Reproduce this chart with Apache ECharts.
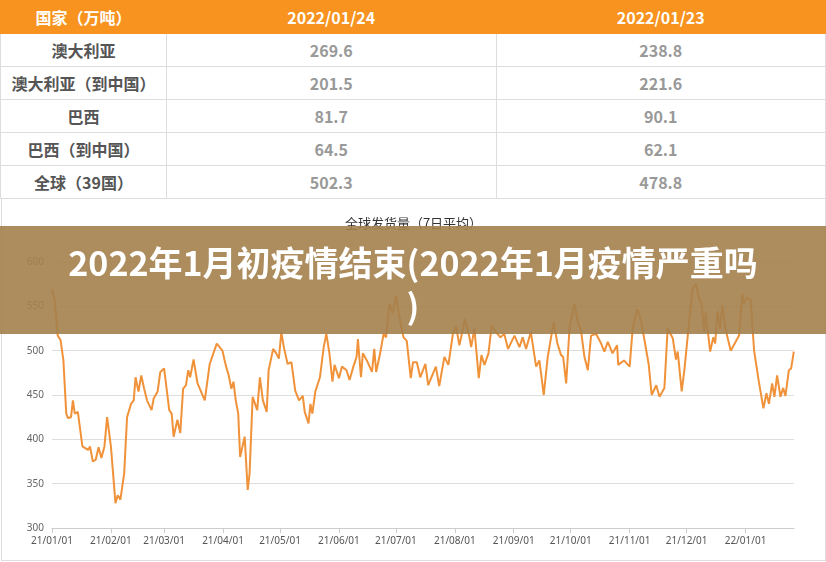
<!DOCTYPE html>
<html><head><meta charset="utf-8">
<script src="https://cdn.jsdelivr.net/npm/echarts@6/dist/echarts.min.js"></script>
<style>
body{margin:0;width:826px;height:562px;overflow:hidden;background:#fff;font-family:"Noto Sans CJK SC","Noto Sans",sans-serif;position:relative}
table{border-collapse:collapse;width:826px;table-layout:fixed;position:absolute;top:0;left:0}
td,th{height:32px;border:1px solid #ddd;text-align:center;font-size:16px;font-weight:bold;padding:0}
th{background:#f7931e;color:#fff;border-color:#f7931e}
td{color:#999}
td.c{color:#555}
#chart{position:absolute;left:1px;top:198px;width:823px;height:362px;border:1px solid #ddd;border-top:none}
#banner{position:absolute;left:0;top:226px;width:826px;height:108px;background:rgba(164,127,77,0.9);color:#fff;font-weight:bold;font-size:34px;line-height:43px;text-align:center;box-sizing:border-box;padding:14px 20px 0 20px;font-family:"Noto Sans CJK SC",sans-serif}
</style></head><body>
<table id="tbl"></table>
<div id="chart"></div>
<div id="banner">2022年1月初疫情结束(2022年1月疫情严重吗<br>)</div>
<script>
const headers=['国家（万吨）','2022/01/24','2022/01/23'];
const countries=['澳大利亚','澳大利亚（到中国）','巴西','巴西（到中国）','全球（39国）'];
const col0124=['269.6','201.5','81.7','64.5','502.3'];
const col0123=['238.8','221.6','90.1','62.1','478.8'];
const days=[0,1.4,3,4.5,6,7.5,8.4,10,11,12,13.6,16,19,20,21.5,23,24.5,26,27.6,29,31,33.4,34.6,36,38,39.5,41.6,43,44,45.5,47,48.5,50,52.4,53.5,55.6,57,59,61.7,63,64,66,67.5,69,70.5,71.7,72.7,74.5,76.6,80.4,83,86.7,89.7,91.4,93,94.4,95.5,96.7,98,99,101.4,103,104,105.6,108,109.4,111,113,114,116.4,118,119.4,120.7,122,124,126,128,130,132,133,135,136,137,138.6,141,143,144.4,146,147.6,148.7,151,152.6,155,156.6,158.6,160.3,161,162.6,163.6,165.7,168.4,169.6,170.6,172.7,174.5,175.8,177.6,179.4,181,183,185,186.7,188.8,190,192,193.8,196.5,198,202,203.8,206.5,208.6,211,212.6,214.4,217.4,219.7,220.6,222.3,224.6,226,227.6,229.7,231.4,233.7,236,238,240,243.4,246,247.7,249.5,252,254.8,256.5,258.8,260.9,264,266,267.9,269,270.6,272.4,275,276.8,278.4,280.2,282,283.7,286.3,289,290.7,292.5,295,297.4,298,301,304,305.6,308,310,311.8,314,315.6,318,319.7,322.3,324,326.7,328.4,329.3,331.4,332.8,334.5,337.1,338.9,340.6,341.8,343.3,344,346.4,348,349,350.2,351.6,352.8,354.6,357.2,359.8,361.6,363.3,364.2,365.6,367.7,369.5,372,374.4,376,377.3,379,380.2,381.6,383.4,384.8,386,387.8,389,390.4];
const values=[569,557,517,512,489,429,424,425,444,429,431,392,388,392,375,377,391,379,392,425,392,328,337,332,362,425,440,444,470,454,472,457,444,433,446,454,476,480,433,429,403,422,407,457,461,478,470,490,463,444,485,508,500,484,472,457,465,444,429,380,403,343,362,448,433,470,444,431,478,502,497,491,521,504,485,487,455,444,449,431,418,440,429,454,470,504,519,497,465,484,469,482,478,467,482,493,513,470,497,489,476,502,476,497,519,515,553,542,562,536,515,511,469,487,487,470,485,461,482,460,493,484,519,528,506,536,515,504,525,469,495,484,497,528,521,515,519,502,517,504,515,502,521,482,489,450,493,532,508,495,493,463,527,553,532,523,493,478,517,519,508,499,510,497,506,484,489,482,525,547,534,512,485,450,461,448,458,525,514,490,499,454,478,515,570,575,558,553,521,543,499,515,508,545,525,551,523,500,510,517,564,553,560,557,500,465,435,452,440,463,448,472,448,458,449,478,480,499];
const yTicks=[300,350,400,450,500,550,600];

let h='<tr>'+headers.map(x=>'<th>'+x+'</th>').join('')+'</tr>';
h=h.replace('<th>','<th style="width:165px">');
countries.forEach((c,i)=>{h+='<tr><td class="c">'+c+'</td><td>'+col0124[i]+'</td><td>'+col0123[i]+'</td></tr>';});
document.getElementById('tbl').innerHTML=h;

const base=Date.UTC(2021,0,1);
const data=days.map((d,i)=>[base+d*86400000,values[i]]);
const chart=echarts.init(document.getElementById('chart'));
chart.setOption({
  title:{text:'全球发货量（7日平均）',left:'center',top:14,textStyle:{fontSize:13,fontWeight:'normal',color:'#333',fontFamily:'Noto Sans CJK SC'}},
  grid:{left:50,right:31,top:64,bottom:32},
  xAxis:{type:'time',min:base,max:base+390.5*86400000,splitNumber:13,
    axisLine:{lineStyle:{color:'#ccc'}},axisTick:{show:true,lineStyle:{color:'#ccc'}},splitLine:{show:false},
    axisLabel:{formatter:'{yy}/{MM}/{dd}',color:'#555',fontSize:10,fontFamily:'Noto Sans'}},
  yAxis:{type:'value',min:yTicks[0],max:yTicks[yTicks.length-1],interval:50,
    axisLine:{show:false},axisTick:{show:false},splitLine:{lineStyle:{color:'#ddd'}},
    axisLabel:{color:'#666',fontSize:10,fontFamily:'Noto Sans'}},
  series:[{type:'line',data:data,showSymbol:false,smooth:false,lineStyle:{color:'#f0923a',width:2},itemStyle:{color:'#f0923a'}}],
  animation:false
});
</script></body></html>
